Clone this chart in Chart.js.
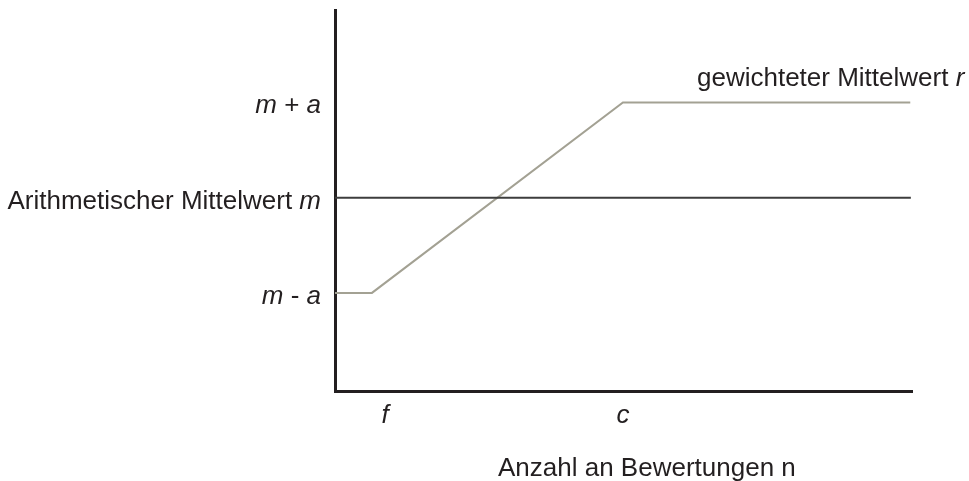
<!DOCTYPE html>
<html>
<head>
<meta charset="utf-8">
<script src="https://cdn.jsdelivr.net/npm/chart.js@4"></script>
<style>
  html, body { margin: 0; padding: 0; background: #fff; }
  #wrap { width: 969px; height: 481px; position: relative; }
</style>
</head>
<body>
<div id="wrap"><canvas id="chart"></canvas></div>
<script>
// Data (x: number of ratings, y: in units of a around m)
const weightedX = [0, 6.4, 49.9, 99.7];
const weightedY = [-1, -1, 1, 1];
const meanX = [0, 99.8];
const meanY = [0, 0];

// y tick values and their labels (segments: [text, italic])
const yTickValues = [1, 0, -1];
const yTickLabels = [
  [["m", true], [" + ", false], ["a", true]],
  [["Arithmetischer Mittelwert ", false], ["m", true]],
  [["m", true], [" - ", false], ["a", true]],
];

// x tick values and labels
const xTickValues = [8.7, 49.9];
const xTickLabels = [[["f", true]], [["c", true]]];

const xTitle = [["Anzahl an Bewertungen n", false]];
const seriesLabel = [["gewichteter Mittelwert ", false], ["r", true]];

const FONT = "'Liberation Sans', Arial, sans-serif";
const TEXT_COLOR = "#231f20";

function fontFor(italic) {
  return (italic ? "italic " : "") + "26px " + FONT;
}

function measure(ctx, segs) {
  let w = 0;
  segs.forEach(([t, it]) => {
    ctx.font = fontFor(it);
    w += ctx.measureText(t).width;
  });
  return w;
}

// draws mixed upright/italic text; align = "left" | "right" | "center"
function drawRich(ctx, segs, x, y, align) {
  const w = measure(ctx, segs);
  let cx = x;
  if (align === "right") cx = x - w;
  if (align === "center") cx = x - w / 2;
  ctx.textBaseline = "alphabetic";
  ctx.textAlign = "left";
  ctx.fillStyle = TEXT_COLOR;
  segs.forEach(([t, it]) => {
    ctx.font = fontFor(it);
    ctx.fillText(t, cx, y);
    cx += ctx.measureText(t).width;
  });
}

const labelPlugin = {
  id: "labels",
  afterDraw(chart) {
    const ctx = chart.ctx;
    const xs = chart.scales.x;
    const ys = chart.scales.y;
    ctx.save();

    yTickValues.forEach((v, i) => {
      const py = ys.getPixelForValue(v);
      drawRich(ctx, yTickLabels[i], xs.left - 14, py + 11, "right");
    });

    xTickValues.forEach((v, i) => {
      const px = xs.getPixelForValue(v);
      drawRich(ctx, xTickLabels[i], px, 423, "center");
    });

    drawRich(ctx, xTitle, 498, 476, "left");

    const lastY = ys.getPixelForValue(weightedY[weightedY.length - 1]);
    drawRich(ctx, seriesLabel, 697, lastY - 16, "left");

    ctx.restore();
  },
};

const ctx = document.getElementById("chart").getContext("2d");
new Chart(ctx, {
  type: "line",
  data: {
    datasets: [
      {
        label: "Arithmetischer Mittelwert",
        data: meanX.map((x, i) => ({ x: x, y: meanY[i] })),
        borderColor: "#3d3d3d",
        borderWidth: 2,
        pointRadius: 0,
        fill: false,
        tension: 0,
      },
      {
        label: "gewichteter Mittelwert",
        data: weightedX.map((x, i) => ({ x: x, y: weightedY[i] })),
        borderColor: "#a3a193",
        borderWidth: 2,
        pointRadius: 0,
        fill: false,
        tension: 0,
      },
    ],
  },
  options: {
    responsive: true,
    maintainAspectRatio: false,
    animation: false,
    layout: {
      padding: { left: 335, right: 57, top: 10, bottom: 90 },
    },
    plugins: {
      legend: { display: false },
      tooltip: { enabled: false },
    },
    scales: {
      x: {
        type: "linear",
        min: 0,
        max: 100,
        ticks: { display: false },
        grid: { display: false },
        border: { display: true, width: 3, color: TEXT_COLOR },
        afterFit: (s) => { s.height = 0; },
      },
      y: {
        type: "linear",
        min: -2.03,
        max: 1.97,
        ticks: { display: false },
        grid: { display: false },
        border: { display: true, width: 3, color: TEXT_COLOR },
        afterFit: (s) => { s.width = 0; },
      },
    },
  },
  plugins: [labelPlugin],
});
</script>
</body>
</html>
